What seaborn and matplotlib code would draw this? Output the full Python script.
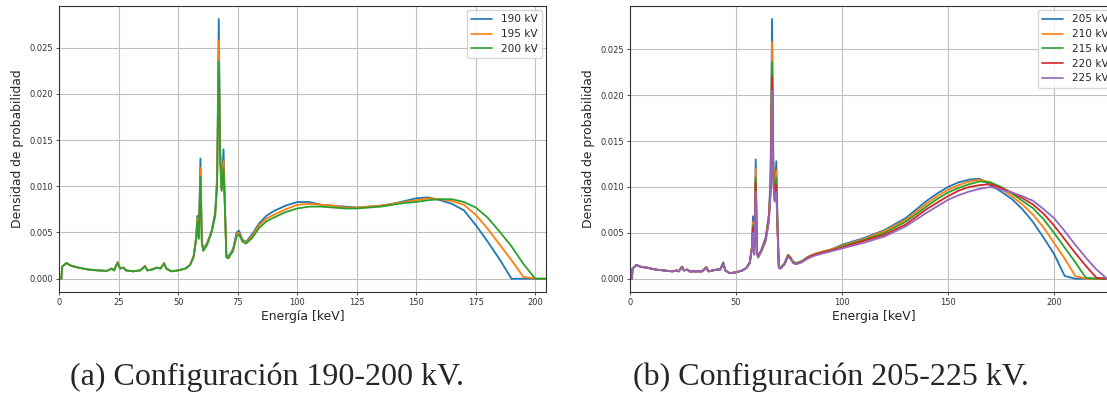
import numpy as np
import pandas as pd
import matplotlib
matplotlib.use("Agg")
import matplotlib.pyplot as plt
import seaborn as sns

# ---------------- data ----------------
E_A = [0, 0.9, 1.2, 3, 5, 8, 12, 16, 20, 22,
       23, 24.5, 25.5, 27, 28, 31, 34, 36, 37, 39,
       41, 42.5, 44, 45, 47, 50, 53, 55, 56.5, 57.5,
       58, 58.6, 59.3, 59.9, 60.5, 62, 64, 65.5, 66.3, 67,
       67.6, 68.2, 69, 69.6, 70.2, 71, 73, 74.5, 75.5, 77,
       78.5, 81, 84, 87, 90, 95, 100, 105, 110, 115,
       120, 125, 130, 135, 140, 145, 150, 155, 160, 165,
       170, 175, 180, 185, 190, 195, 200, 205]

KV190 = [0, 0, 0.0013, 0.0017, 0.0014, 0.0012, 0.0010, 0.0009, 0.00085, 0.0011,
         0.0009, 0.0018, 0.0011, 0.0012, 0.0009, 0.0008, 0.0009, 0.0014, 0.0009, 0.0010,
         0.0012, 0.0011, 0.0017, 0.0011, 0.0008, 0.0009, 0.0011, 0.0015, 0.0025, 0.0045,
         0.0068, 0.0045, 0.0130, 0.0040, 0.0032, 0.0038, 0.0052, 0.0072, 0.0110, 0.0281,
         0.0140, 0.0098, 0.0140, 0.0080, 0.0025, 0.0024, 0.0032, 0.0050, 0.0052, 0.0042,
         0.0040, 0.0048, 0.0060, 0.0068, 0.0073, 0.0079, 0.0083, 0.0083, 0.0080, 0.0079,
         0.0078, 0.0077, 0.0078, 0.0079, 0.0081, 0.0084, 0.0087, 0.0088, 0.0085, 0.0081,
         0.0074, 0.0058, 0.0040, 0.0021, 0.0, 0.0, 0.0, 0.0]

KV195 = [0, 0, 0.0013, 0.0017, 0.0014, 0.0012, 0.0010, 0.0009, 0.00085, 0.0011,
         0.0009, 0.0018, 0.0011, 0.0012, 0.0009, 0.0008, 0.0009, 0.0014, 0.0009, 0.0010,
         0.0012, 0.0011, 0.0017, 0.0011, 0.0008, 0.0009, 0.0011, 0.0015, 0.0025, 0.0044,
         0.0065, 0.0044, 0.0120, 0.0039, 0.0031, 0.0037, 0.0051, 0.0070, 0.0105, 0.0258,
         0.0133, 0.0096, 0.0128, 0.0076, 0.0024, 0.0023, 0.0031, 0.0048, 0.0050, 0.0041,
         0.0039, 0.0046, 0.0058, 0.0065, 0.0069, 0.0075, 0.0080, 0.0081, 0.0080, 0.0079,
         0.0077, 0.0077, 0.0078, 0.0079, 0.0081, 0.0083, 0.0085, 0.0087, 0.0086, 0.0084,
         0.0080, 0.0069, 0.0054, 0.0037, 0.0020, 0.0002, 0.0, 0.0]

KV200 = [0, 0, 0.0013, 0.0017, 0.0014, 0.0012, 0.0010, 0.0009, 0.00085, 0.0011,
         0.0009, 0.0017, 0.0011, 0.0012, 0.0009, 0.0008, 0.0009, 0.0013, 0.0009, 0.0010,
         0.0012, 0.0011, 0.0016, 0.0011, 0.0008, 0.0009, 0.0011, 0.0015, 0.0024, 0.0042,
         0.0062, 0.0043, 0.0110, 0.0038, 0.0030, 0.0036, 0.0050, 0.0068, 0.0100, 0.0235,
         0.0126, 0.0095, 0.0120, 0.0073, 0.0023, 0.0022, 0.0030, 0.0046, 0.0048, 0.0040,
         0.0038, 0.0044, 0.0055, 0.0062, 0.0066, 0.0072, 0.0076, 0.0078, 0.0078, 0.0077,
         0.0076, 0.0076, 0.0077, 0.0078, 0.0080, 0.0082, 0.0083, 0.0085, 0.0086, 0.0086,
         0.0083, 0.0077, 0.0066, 0.0051, 0.0035, 0.0016, 0.0, 0.0]

E_B = [0, 0.9, 1.2, 3, 5, 8, 12, 16, 20, 22,
       23, 24.5, 25.5, 27, 28, 31, 34, 36, 37, 39,
       41, 42.5, 44, 45, 47, 50, 53, 55, 56.5, 57.5,
       58, 58.6, 59.3, 59.9, 60.5, 62, 64, 65.5, 66.3, 67,
       67.6, 68.2, 69, 69.6, 70.2, 71, 73, 74.5, 75.5, 77,
       78.5, 81, 84, 87, 90, 95, 100, 110, 120, 130,
       140, 145, 150, 155, 160, 165, 170, 175, 180, 185,
       190, 195, 200, 205, 210, 215, 220, 225, 230, 240]

KV205 = [0, 0, 0.0011, 0.0015, 0.0013, 0.0012, 0.0010, 0.0009, 0.0008, 0.0009,
         0.0008, 0.0013, 0.0009, 0.0010, 0.0008, 0.0008, 0.0008, 0.0013, 0.0008, 0.0009,
         0.0010, 0.0010, 0.0018, 0.0009, 0.0006, 0.0007, 0.0009, 0.0012, 0.0018, 0.0035,
         0.0068, 0.0030, 0.0130, 0.0030, 0.0025, 0.0032, 0.0045, 0.0070, 0.0110, 0.0283,
         0.0130, 0.0092, 0.0128, 0.0060, 0.0013, 0.0012, 0.0017, 0.0026, 0.0024, 0.0018,
         0.0017, 0.0019, 0.0024, 0.0027, 0.0029, 0.0032, 0.0037, 0.0044, 0.0053, 0.0066,
         0.0085, 0.0093, 0.0100, 0.0105, 0.0108, 0.0109, 0.0102, 0.0095, 0.0087, 0.0076,
         0.0062, 0.0045, 0.0027, 0.0003, 0, 0, 0, 0, 0, 0]

KV210 = [0, 0, 0.0011, 0.0015, 0.0013, 0.0012, 0.0010, 0.0009, 0.0008, 0.0009,
         0.0008, 0.0013, 0.0009, 0.0010, 0.0008, 0.0008, 0.0008, 0.0013, 0.0008, 0.0009,
         0.0010, 0.0010, 0.0017, 0.0009, 0.0006, 0.0007, 0.0009, 0.0012, 0.0018, 0.0034,
         0.0062, 0.0029, 0.0120, 0.0029, 0.0025, 0.0031, 0.0044, 0.0068, 0.0105, 0.0258,
         0.0122, 0.0090, 0.0118, 0.0057, 0.0013, 0.0012, 0.0017, 0.0026, 0.0024, 0.0018,
         0.0017, 0.0019, 0.0024, 0.0027, 0.0029, 0.0032, 0.0036, 0.0043, 0.0052, 0.0064,
         0.0082, 0.0090, 0.0097, 0.0102, 0.0106, 0.0108, 0.0105, 0.0098, 0.0090, 0.0081,
         0.0070, 0.0056, 0.0039, 0.0022, 0.0003, 0, 0, 0, 0, 0]

KV215 = [0, 0, 0.0011, 0.0015, 0.0013, 0.0012, 0.0010, 0.0009, 0.0008, 0.0009,
         0.0008, 0.0013, 0.0009, 0.0010, 0.0008, 0.0008, 0.0008, 0.0012, 0.0008, 0.0009,
         0.0010, 0.0010, 0.0017, 0.0009, 0.0006, 0.0007, 0.0009, 0.0012, 0.0018, 0.0034,
         0.0058, 0.0028, 0.0110, 0.0028, 0.0024, 0.0031, 0.0043, 0.0066, 0.0100, 0.0236,
         0.0115, 0.0088, 0.0110, 0.0055, 0.0013, 0.0012, 0.0017, 0.0025, 0.0023, 0.0018,
         0.0017, 0.0019, 0.0023, 0.0026, 0.0028, 0.0031, 0.0035, 0.0042, 0.0050, 0.0062,
         0.0079, 0.0087, 0.0094, 0.0099, 0.0103, 0.0106, 0.0105, 0.0100, 0.0093, 0.0085,
         0.0077, 0.0065, 0.0050, 0.0034, 0.0018, 0.0001, 0, 0, 0, 0]

KV220 = [0, 0, 0.0011, 0.0015, 0.0013, 0.0012, 0.0010, 0.0009, 0.0008, 0.0009,
         0.0008, 0.0013, 0.0009, 0.0010, 0.0008, 0.0008, 0.0008, 0.0012, 0.0008, 0.0009,
         0.0010, 0.0010, 0.0016, 0.0009, 0.0006, 0.0007, 0.0009, 0.0012, 0.0017, 0.0033,
         0.0055, 0.0027, 0.0105, 0.0027, 0.0024, 0.0030, 0.0042, 0.0064, 0.0096, 0.0220,
         0.0108, 0.0086, 0.0102, 0.0052, 0.0012, 0.0011, 0.0016, 0.0025, 0.0023, 0.0017,
         0.0016, 0.0018, 0.0023, 0.0026, 0.0028, 0.0031, 0.0034, 0.0041, 0.0048, 0.0059,
         0.0076, 0.0083, 0.0090, 0.0096, 0.0100, 0.0102, 0.0103, 0.0099, 0.0094, 0.0088,
         0.0081, 0.0071, 0.0058, 0.0043, 0.0028, 0.0014, 0.0001, 0, 0, 0]

KV225 = [0, 0, 0.0011, 0.0015, 0.0013, 0.0012, 0.0010, 0.0009, 0.0008, 0.0009,
         0.0008, 0.0012, 0.0009, 0.0010, 0.0008, 0.0008, 0.0008, 0.0012, 0.0008, 0.0009,
         0.0010, 0.0010, 0.0016, 0.0009, 0.0006, 0.0007, 0.0009, 0.0012, 0.0017, 0.0032,
         0.0050, 0.0026, 0.0095, 0.0026, 0.0023, 0.0030, 0.0041, 0.0062, 0.0092, 0.0205,
         0.0102, 0.0084, 0.0095, 0.0050, 0.0012, 0.0011, 0.0016, 0.0024, 0.0022, 0.0017,
         0.0016, 0.0018, 0.0022, 0.0025, 0.0027, 0.0030, 0.0033, 0.0039, 0.0046, 0.0057,
         0.0072, 0.0079, 0.0086, 0.0091, 0.0095, 0.0098, 0.0100, 0.0097, 0.0094, 0.0090,
         0.0085, 0.0076, 0.0066, 0.0052, 0.0037, 0.0023, 0.0010, 0.0, 0, 0]

LABELS_A = ["190 kV", "195 kV", "200 kV"]
LABELS_B = ["205 kV", "210 kV", "215 kV", "220 kV", "225 kV"]
XTICKS_A = [0, 25, 50, 75, 100, 125, 150, 175, 200]
XTICKS_B = [0, 50, 100, 150, 200]
YTICKS = [0.000, 0.005, 0.010, 0.015, 0.020, 0.025]
XLABEL_A = "Energía [keV]"
XLABEL_B = "Energia [keV]"
YLABEL = "Densidad de probabilidad"
CAPTION_A = "(a) Configuración 190-200 kV."
CAPTION_B = "(b) Configuración 205-225 kV."

for s in (KV190, KV195, KV200):
    assert len(s) == len(E_A)
for s in (KV205, KV210, KV215, KV220, KV225):
    assert len(s) == len(E_B)

# ---------------- style ----------------
sns.set_style("ticks")
plt.rcParams.update({
    "font.family": ["DejaVu Sans"],
    "axes.edgecolor": "#333333",
    "axes.linewidth": 0.8,
    "grid.color": "#c0c0c0",
    "grid.linewidth": 0.8,
    "xtick.color": "#333333",
    "ytick.color": "#333333",
    "xtick.major.size": 2.5,
    "ytick.major.size": 2.5,
    "xtick.major.width": 0.6,
    "ytick.major.width": 0.6,
})
COLORS = sns.color_palette("tab10")

fig = plt.figure(figsize=(11.07, 3.98), dpi=100)
W, H = 1107, 398
AX_BOTTOM = (H - 291.7) / H
AX_HEIGHT = 285.7 / H
ax_a = fig.add_axes([59.3 / W, AX_BOTTOM, 486.7 / W, AX_HEIGHT])
ax_b = fig.add_axes([630 / W, AX_BOTTOM, 487 / W, AX_HEIGHT])


def draw(ax, E, series, labels, xlim, xticks, xlabel):
    frames = []
    for vals, lab in zip(series, labels):
        frames.append(pd.DataFrame({"E": E, "p": vals, "kV": lab}))
    df = pd.concat(frames, ignore_index=True)
    sns.lineplot(data=df, x="E", y="p", hue="kV", hue_order=labels,
                 palette=COLORS[:len(labels)], estimator=None, sort=False,
                 linewidth=1.3, ax=ax)
    ax.set_xlim(*xlim)
    ax.set_xticks(xticks)
    ax.set_yticks(YTICKS)
    ax.set_yticklabels([f"{v:.3f}" for v in YTICKS])
    ax.grid(True)
    ax.tick_params(labelsize=6.0, pad=2)
    ax.set_xlabel(xlabel, fontsize=8.9, labelpad=2)
    ax.set_ylabel(YLABEL, fontsize=8.9, labelpad=4)
    ax.margins(y=0.05)
    for sp in ax.spines.values():
        sp.set_visible(True)
    h, l = ax.get_legend_handles_labels()
    leg = ax.legend(h, l, loc="upper right", fontsize=7.6, frameon=True,
                    fancybox=True, framealpha=0.8, edgecolor="#cccccc",
                    borderaxespad=0.4, labelspacing=0.45)
    for line in leg.get_lines():
        line.set_linewidth(1.2)


draw(ax_a, E_A, [KV190, KV195, KV200], LABELS_A, (0, 204.5), XTICKS_A, XLABEL_A)
draw(ax_b, E_B, [KV205, KV210, KV215, KV220, KV225], LABELS_B, (0, 229.7),
     XTICKS_B, XLABEL_B)

cap_font = dict(fontsize=23, family=["Liberation Serif", "DejaVu Serif"],
                ha="center", va="center")
fig.text(267.5 / W, 1 - 377 / H, CAPTION_A, **cap_font)
fig.text(831 / W, 1 - 377 / H, CAPTION_B, **cap_font)

fig.savefig("out.png", dpi=100)
